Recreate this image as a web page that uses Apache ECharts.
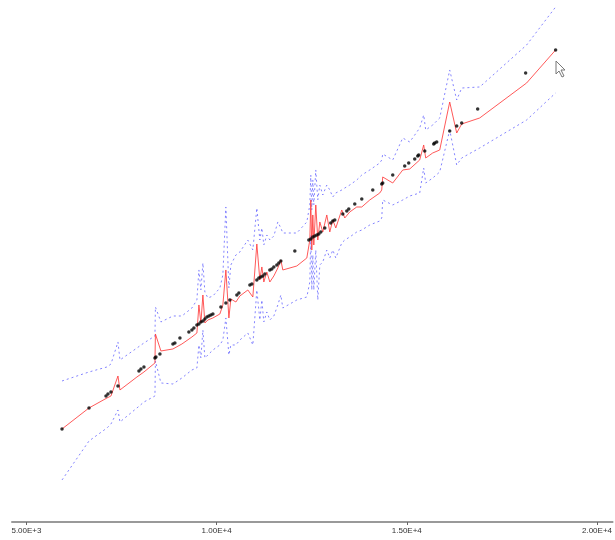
<!DOCTYPE html>
<html>
<head>
<meta charset="utf-8">
<script src="https://cdn.jsdelivr.net/npm/echarts@6/dist/echarts.min.js"></script>
<style>
html, body { margin: 0; padding: 0; background: #fff; }
#chart { width: 615px; height: 540px; }
</style>
</head>
<body>
<div id="chart"></div>
<script>
// observed points
const obsX = [5935, 6644, 7091, 7143, 7222, 7406, 7958, 8010, 8089, 8378, 8404, 8509, 8851, 8903, 9035,
  9271, 9350, 9402, 9481, 9534, 9586, 9639, 9691, 9744, 9796, 9849, 9902, 10112, 10243, 10348,
  10532, 10585, 10874, 10926, 11057, 11110, 11162, 11215, 11268, 11399, 11451, 11504, 11583, 11635, 11688,
  12056, 12424, 12476, 12529, 12582, 12634, 12687, 12739, 12844, 13001, 13054, 13106, 13317, 13422, 13474,
  13632, 13816, 14105, 14341, 14367, 14630, 14945, 15050, 15208, 15287, 15313, 15471, 15707, 15733, 15786,
  16128, 16312, 16443, 16863, 18124, 18912];
const obsY = [5990, 6710, 7121, 7190, 7258, 7464, 7978, 8047, 8115, 8424, 8459, 8561, 8904, 8939, 9110,
  9316, 9384, 9453, 9556, 9590, 9659, 9693, 9762, 9830, 9864, 9899, 9933, 10173, 10310, 10413,
  10584, 10653, 10927, 10962, 11099, 11167, 11202, 11236, 11305, 11442, 11476, 11545, 11613, 11682, 11751,
  12093, 12470, 12505, 12573, 12607, 12642, 12676, 12745, 12882, 13053, 13122, 13156, 13362, 13465, 13533,
  13705, 13876, 14185, 14391, 14425, 14699, 15008, 15111, 15248, 15351, 15386, 15523, 15762, 15797, 15831,
  16208, 16379, 16482, 16962, 18197, 18986];

// fitted line and bounds
const fitX = [5935, 6644, 7117, 7222, 7406, 7458, 7905, 8089, 8378, 8391, 8535, 8851, 9087, 9350, 9481,
  9534, 9586, 9639, 9691, 9770, 9902, 10085, 10164, 10243, 10322, 10374, 10506, 10611, 10821, 10952,
  11057, 11136, 11189, 11241, 11320, 11399, 11504, 11609, 11688, 11740, 12108, 12371, 12450, 12476, 12502,
  12529, 12555, 12607, 12660, 12713, 12791, 12896, 12975, 13054, 13133, 13290, 13369, 13500, 13684, 13816,
  14026, 14289, 14341, 14367, 14630, 14893, 15077, 15339, 15444, 15497, 15681, 15865, 16128, 16312, 16443,
  16916, 18150, 18912];
const fitY = [5990, 6710, 7053, 7121, 7807, 7327, 7773, 7944, 8253, 9247, 8664, 8733, 8904, 9144, 9281,
  10242, 9624, 10584, 9624, 9727, 9796, 9933, 10242, 11442, 9796, 10447, 10344, 10550, 10756, 10516,
  12333, 11099, 11545, 11030, 11373, 11030, 11236, 11510, 11785, 11442, 11579, 11853, 12470, 13842, 12127,
  13328, 12299, 13671, 12470, 13088, 12745, 13328, 12745, 13156, 12882, 13499, 13225, 13431, 13602, 13602,
  13842, 14082, 14185, 14631, 14425, 14871, 14905, 15214, 15728, 15282, 15454, 15556, 17202, 16139, 16448,
  16654, 17854, 18985];
const upperY = [7636, 7944, 8116, 8218, 8973, 8356, 8767, 8939, 9179, 10173, 9659, 9864, 9864, 10139, 10413,
  11442, 10756, 11682, 10687, 10482, 10550, 10824, 11270, 13602, 10824, 11613, 11956, 12059, 12470, 12127,
  13568, 12470, 12882, 12299, 12642, 12470, 12608, 13088, 12882, 12710, 12710, 13088, 13671, 14699, 13499,
  14528, 13671, 14871, 13842, 14356, 14013, 14356, 14185, 13945, 14082, 14185, 14253, 14356, 14528, 14699,
  14871, 15111, 15214, 15419, 15214, 15968, 15831, 16311, 16757, 16242, 16414, 16654, 18300, 17271, 17682,
  17717, 19157, 20460];
const lowerY = [4241, 5578, 6024, 6161, 6641, 6230, 6710, 6915, 7121, 8321, 7567, 7533, 7738, 8013, 8081,
  8870, 8424, 9384, 8424, 8527, 8698, 8870, 9041, 9796, 8527, 8870, 8870, 9041, 9281, 8870,
  10756, 9727, 10413, 9659, 10002, 9727, 9864, 10242, 10584, 10139, 10413, 10516, 11030, 12642, 10756,
  11956, 10756, 12127, 10413, 11613, 11716, 12127, 11853, 12127, 11853, 12368, 12470, 12573, 12745, 12813,
  12985, 13122, 13225, 13842, 13671, 13842, 13979, 14082, 14939, 14425, 14596, 14802, 16242, 15042, 15282,
  15625, 16585, 17511];

const xTicks = [5000, 10000, 15000, 20000];

function zip(xs, ys) {
  return xs.map((x, i) => [x, ys[i]]);
}

function fmt(v) {
  return v.toExponential(2).replace("e", "E");
}

const chart = echarts.init(document.getElementById("chart"));

const dashed = {
  color: "rgba(80,80,255,0.7)",
  width: 1,
  type: [2, 3]
};

chart.setOption({
  animation: false,
  backgroundColor: "#fff",
  grid: { left: 12, right: 2, top: 0, bottom: 18 },
  xAxis: {
    type: "value",
    min: 4620,
    max: 20410,
    splitLine: { show: false },
    axisLine: { lineStyle: { color: "#999", width: 2 } },
    axisTick: { customValues: xTicks, length: 3, lineStyle: { color: "#666" } },
    axisLabel: {
      customValues: xTicks,
      formatter: fmt,
      fontSize: 8,
      color: "#333",
      margin: 5,
      fontFamily: "Liberation Sans Narrow, Liberation Sans, sans-serif"
    }
  },
  yAxis: {
    type: "value",
    min: 2800,
    max: 20700,
    show: false
  },
  // mouse pointer left in the screenshot
  graphic: [{
    type: "polygon",
    x: 556,
    y: 61,
    shape: { points: [[0, 0], [0, 13], [3, 10], [6, 16], [8, 15], [5, 9], [9, 9]] },
    style: { fill: "#fff", stroke: "#777", lineWidth: 1 },
    z: 10
  }],
  series: [
    {
      type: "line",
      data: zip(fitX, upperY),
      showSymbol: false,
      lineStyle: dashed
    },
    {
      type: "line",
      data: zip(fitX, lowerY),
      showSymbol: false,
      lineStyle: dashed
    },
    {
      type: "line",
      data: zip(fitX, fitY),
      showSymbol: false,
      lineStyle: { color: "rgba(255,60,60,0.85)", width: 1 }
    },
    {
      type: "scatter",
      data: zip(obsX, obsY),
      symbolSize: 3.5,
      itemStyle: { color: "#000" },
      z: 5
    }
  ]
});
</script>
</body>
</html>
